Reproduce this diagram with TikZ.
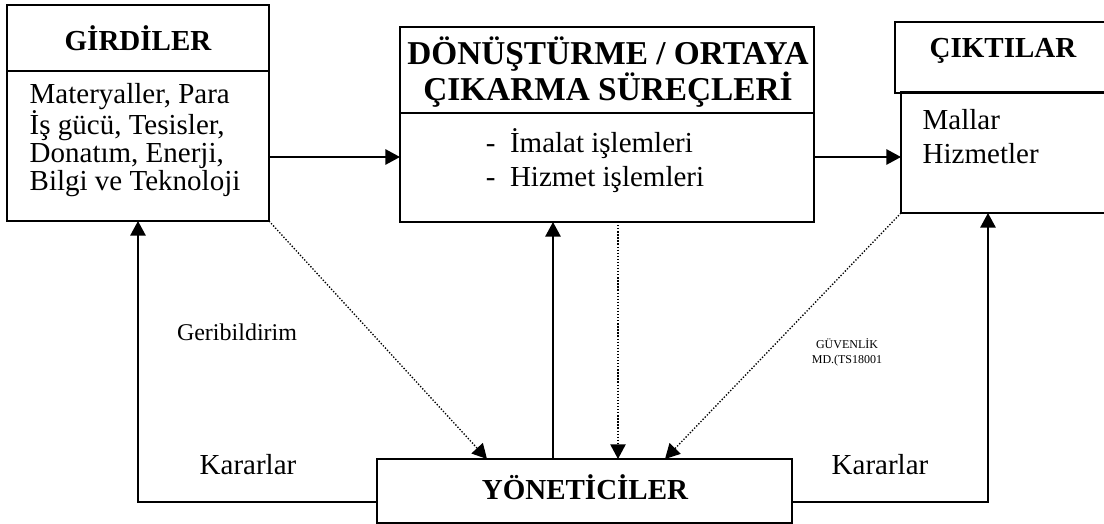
\documentclass[tikz,border=0pt]{standalone}
\usepackage{fontspec}
\setmainfont{Liberation Serif}
\usetikzlibrary{arrows.meta}
\begin{document}
\begin{tikzpicture}[x=0.75pt,y=-0.75pt,
  boxnode/.style={draw,line width=1.4pt,inner sep=0pt,outer sep=0pt,anchor=north west},
  big/.style={font=\fontsize{21.75}{21}\selectfont},
  bigb/.style={font=\fontsize{21.75}{25.5}\selectfont\bfseries},
  conn/.style={line width=1.4pt,-{Triangle[length=11pt,width=11.5pt]}},
  dconn/.style={line width=1pt,dash pattern=on 1pt off 1.3pt,-{Triangle[length=11pt,width=11.5pt]}},
  plain/.style={line width=1.4pt}]
\clip (0,0) rectangle (1104,524);
\fill[white] (0,0) rectangle (1104,524);
% boxes
\node[boxnode,minimum width=196.5pt,minimum height=49.5pt] (gt) at (7,5) {};
\node[boxnode,minimum width=196.5pt,minimum height=112.5pt] (gb) at (7,71) {};
\node[boxnode,minimum width=310.5pt,minimum height=64.5pt] (mt) at (400,27) {};
\node[boxnode,minimum width=310.5pt,minimum height=81.75pt] (mb) at (400,113) {};
\node[boxnode,minimum width=165pt,minimum height=53.25pt] (rt) at (895,22) {};
\node[boxnode,minimum width=165pt,minimum height=90.75pt] (rb) at (901,92) {};
\node[boxnode,minimum width=311.25pt,minimum height=48pt] (yn) at (377,459) {};
% texts
\node[bigb] (gtt) at (138,38) {GİRDİLER};
\node[big,align=left,anchor=west] (gbt) at (25,140) {Materyaller, Para\\İş gücü, Tesisler,\\Donatım, Enerji,\\Bilgi ve Teknoloji};
\node[font=\fontsize{25}{25.5}\selectfont\bfseries,align=center] (mtt) at (608,72) {DÖNÜŞTÜRME / ORTAYA\\ÇIKARMA SÜREÇLERİ};
\node[font=\fontsize{21.75}{25.5}\selectfont,align=left] (mbt) at (595,161) {-\ \ İmalat işlemleri\\-\ \ Hizmet işlemleri};
\node[bigb] (rtt) at (1003,51) {ÇIKTILAR};
\node[font=\fontsize{21.75}{25.5}\selectfont,align=left,anchor=west] (rbt) at (918,137) {Mallar\\Hizmetler};
\node[bigb] (ynt) at (585,487) {YÖNETİCİLER};
\node[font=\fontsize{18}{18}\selectfont] (geri) at (237,332) {Geribildirim};
\node[big] (k1) at (248,465) {Kararlar};
\node[big] (k2) at (880,465) {Kararlar};
\node[font=\fontsize{9}{11.25}\selectfont,align=center] (guv) at (847,352) {GÜVENLİK\\MD.(TS18001};
% coordinates
\coordinate (lc) at (138,502);
\coordinate (rc) at (988,502);
% connectors
\draw[conn] (gb.east |- 0,157) -- (mb.west |- 0,157);
\draw[conn] (mb.east |- 0,157) -- (rb.west |- 0,157);
\draw[conn] (yn.west |- lc) -- (lc) -- (lc |- gb.south);
\draw[conn] (yn.east |- rc) -- (rc) -- (rc |- rb.south);
\draw[conn] (yn.north -| 553,0) -- (mb.south -| 553,0);
\draw[dconn] (mb.south -| 618,0) -- (yn.north -| 618,0);
\draw[dconn] (gb.south east) -- (yn.north -| 487,0);
\draw[dconn] (rb.south west) -- (yn.north -| 665,0);
\end{tikzpicture}
\end{document}
